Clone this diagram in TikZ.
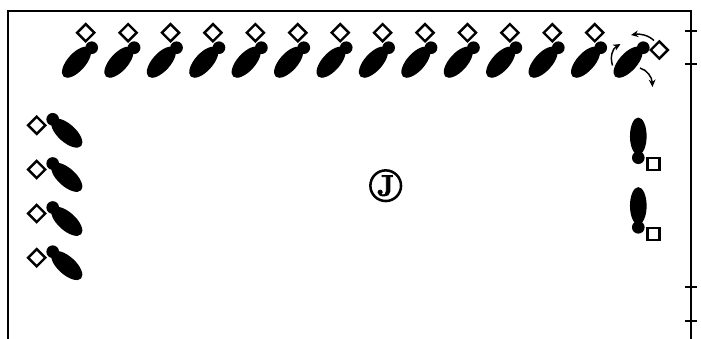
\documentclass[tikz,border=0pt]{standalone}
\usetikzlibrary{shapes.geometric,arrows.meta}
\newcommand{\heavyJ}{\leavevmode\special{pdf:code q 2 Tr 0.7 w}J\special{pdf:code Q}}
\tikzset{
  px/.style={x=0.75pt,y=-0.75pt},
  headdot/.style={circle,fill=black,draw=none,inner sep=0pt,minimum size=9.5pt},
  bodyshape/.style={ellipse,fill=black,draw=none,inner sep=0pt,minimum width=29pt,minimum height=13.5pt},
  diamondmark/.style={diamond,draw=black,fill=white,line width=1.8pt,inner sep=0pt,minimum width=13.6pt,minimum height=13.6pt,aspect=1},
  squaremark/.style={rectangle,draw=black,fill=white,line width=1.9pt,inner sep=0pt,minimum size=9pt},
  frameline/.style={line width=1.9pt,black},
  tickline/.style={line width=1.5pt,black},
  movearrow/.style={line width=1.1pt,black,-{Stealth[length=5.5pt,width=5pt]}}
}
\begin{document}
\begin{tikzpicture}[px]
\useasboundingbox (0,0) rectangle (701,339);
\coordinate (fbl) at (8,339);
\coordinate (ftl) at (8,11);
\coordinate (ftr) at (691,11);
\coordinate (fbr) at (691,339);
\draw[frameline,line join=miter] (fbl) -- (ftl) -- (ftr) -- (fbr);
\foreach \y/\n in {31/a,64/b,287/c,321/d}{
  \coordinate (t\n l) at (685,\y);
  \coordinate (t\n r) at (697,\y);
  \draw[tickline] (t\n l) -- (t\n r);
}
% top row
\foreach \i in {0,...,12}{
  \pgfmathsetmacro{\hx}{91.7+42.42*\i}
  \node[bodyshape,rotate=48] (tb\i) at ({\hx-15.2},62.2) {};
  \node[headdot] (th\i) at (\hx,47.7) {};
  \node[diamondmark] (td\i) at ({\hx-6},32.7) {};
}
% rotating player
\node[bodyshape,rotate=48] (lb) at (628.1,62.2) {};
\node[headdot] (lh) at (643.3,47.7) {};
\node[diamondmark] (ld) at (659.3,50) {};
\coordinate (a1s) at (654,40.5);
\coordinate (a1e) at (631,35);
\coordinate (a2s) at (612.5,65.5);
\coordinate (a2e) at (620.5,44);
\coordinate (a3s) at (640,68);
\coordinate (a3e) at (652.5,87);
\draw[movearrow] (a1s) .. controls (648,35) and (640,33.5) .. (a1e);
\draw[movearrow] (a2s) .. controls (610,57) and (612,49) .. (a2e);
\draw[movearrow] (a3s) .. controls (647,70) and (652,77) .. (a3e);
% left column
\foreach \i/\y in {0/119.3,1/163.5,2/207.5,3/251.7}{
  \node[bodyshape,rotate=-42] (sb\i) at (66.8,{\y+13.8}) {};
  \node[headdot] (sh\i) at (52.7,\y) {};
  \node[diamondmark] (sd\i) at (36.7,{\y+6}) {};
}
% right column
\foreach \i/\y in {0/157.7,1/227.3}{
  \node[bodyshape,rotate=90,minimum width=28pt,minimum height=12.5pt] (rb\i) at (638.3,{\y-21.5}) {};
  \node[headdot] (rh\i) at (638.3,\y) {};
  \node[squaremark] (rs\i) at (653.3,{\y+6.5}) {};
}
% centre
\node[circle,draw=black,line width=1.9pt,inner sep=0pt,minimum size=23pt,font=\fontsize{22}{22}\selectfont\bfseries] (jmark) at (385.7,185.7) {\heavyJ};
\end{tikzpicture}
\end{document}
